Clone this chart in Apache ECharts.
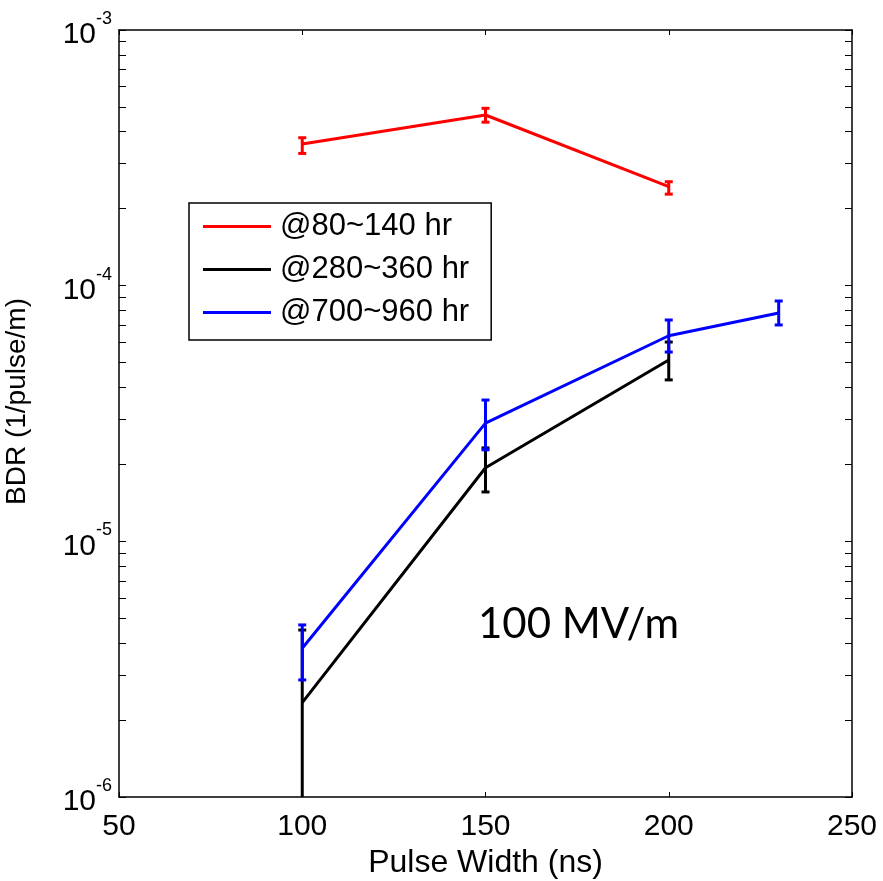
<!DOCTYPE html>
<html>
<head>
<meta charset="utf-8">
<title>BDR vs Pulse Width</title>
<script src="https://cdn.jsdelivr.net/npm/echarts@6/dist/echarts.min.js"></script>
<style>html,body{margin:0;padding:0;background:#fff}</style>
</head>
<body>
<div id="main" style="width:883px;height:881px;"></div>
<script>
// values
var names = ['@80~140 hr', '@280~360 hr', '@700~960 hr'];
var colors = ['#ff0000', '#000000', '#0000ff'];

var pulseA = [100, 150, 200];
var bdrA = [3.58e-4, 4.65e-4, 2.44e-4];
var loA = [3.29e-4, 4.36e-4, 2.28e-4];
var hiA = [3.79e-4, 4.94e-4, 2.55e-4];

var pulseB = [100, 150, 200];
var bdrB = [2.34e-6, 1.94e-5, 5.12e-5];
var loB = [5e-7, 1.56e-5, 4.28e-5];
var hiB = [4.5e-6, 2.32e-5, 6.02e-5];

var pulseC = [100, 150, 200, 230];
var bdrC = [3.82e-6, 2.90e-5, 6.37e-5, 7.82e-5];
var loC = [2.87e-6, 2.28e-5, 5.5e-5, 7.02e-5];
var hiC = [4.71e-6, 3.57e-5, 7.34e-5, 8.71e-5];

var yMajor = [1e-6, 1e-5, 1e-4, 1e-3];

var myChart = echarts.init(document.getElementById('main'));

// log minor ticks 1..9 x each decade
var yTicks = [];
for (var d = -6; d < -3; d++) {
  for (var m = 1; m < 10; m++) yTicks.push(m * Math.pow(10, d));
}
yTicks.push(1e-3);

function pairs(xs, ys) {
  return xs.map(function (x, i) { return [x, ys[i]]; });
}
function errData(xs, lo, hi) {
  return xs.map(function (x, i) { return [x, lo[i], hi[i]]; });
}

function errRender(params, api) {
  var x = api.value(0);
  var top = api.coord([x, api.value(2)]);
  var bot = api.coord([x, api.value(1)]);
  var c = api.visual('color');
  var hw = 4;
  var st = { stroke: c, lineWidth: 3 };
  return {
    type: 'group',
    children: [
      { type: 'line', shape: { x1: top[0], y1: top[1], x2: bot[0], y2: bot[1] }, style: st },
      { type: 'line', shape: { x1: top[0] - hw, y1: top[1], x2: top[0] + hw, y2: top[1] }, style: st },
      { type: 'line', shape: { x1: bot[0] - hw, y1: bot[1], x2: bot[0] + hw, y2: bot[1] }, style: st }
    ]
  };
}

var font = 'Liberation Sans, Arial, sans-serif';
var axisLineStyle = { color: '#000', width: 1.5 };

var lineSeries = [[pulseA, bdrA], [pulseB, bdrB], [pulseC, bdrC]].map(function (s, i) {
  return {
    name: names[i],
    type: 'line',
    data: pairs(s[0], s[1]),
    symbol: 'none',
    lineStyle: { color: colors[i], width: 3 },
    itemStyle: { color: colors[i] },
    z: 3
  };
});

var errSeries = [[pulseA, loA, hiA], [pulseB, loB, hiB], [pulseC, loC, hiC]].map(function (s, i) {
  return {
    type: 'custom',
    renderItem: errRender,
    data: errData(s[0], s[1], s[2]),
    itemStyle: { color: colors[i] },
    clip: true,
    z: 3
  };
});

var option = {
  animation: false,
  backgroundColor: '#fff',
  grid: { left: 119, right: 31, top: 30, bottom: 84, show: false, containLabel: false, outerBoundsMode: 'none' },
  legend: {
    data: names,
    icon: 'rect',
    orient: 'vertical',
    left: 189,
    top: 203,
    padding: [8, 22, 12, 14],
    itemWidth: 68,
    itemHeight: 3,
    itemGap: 12,
    borderColor: '#000',
    borderWidth: 1.5,
    backgroundColor: '#fff',
    textStyle: { fontFamily: font, fontSize: 31, color: '#000', lineHeight: 30, padding: [0, 0, 0, 4] }
  },
  xAxis: [{
    type: 'value',
    min: 50,
    max: 250,
    interval: 50,
    name: 'Pulse Width (ns)',
    nameLocation: 'middle',
    nameGap: 48,
    nameTextStyle: { fontFamily: font, fontSize: 32, color: '#000' },
    axisLine: { lineStyle: axisLineStyle },
    axisTick: { inside: true, length: 5, lineStyle: { color: '#000', width: 1 } },
    axisLabel: { fontFamily: font, fontSize: 30, color: '#000', margin: 15 },
    splitLine: { show: false }
  }, {
    type: 'value',
    position: 'top',
    min: 50,
    max: 250,
    interval: 50,
    axisLine: { lineStyle: axisLineStyle },
    axisTick: { inside: true, length: 5, lineStyle: { color: '#000', width: 1 } },
    axisLabel: { show: false },
    splitLine: { show: false }
  }],
  yAxis: [{
    type: 'log',
    logBase: 10,
    min: 1e-6,
    max: 1e-3,
    name: 'BDR (1/pulse/m)',
    nameLocation: 'middle',
    nameGap: 88,
    nameTextStyle: { fontFamily: font, fontSize: 28, color: '#000', padding: [0, 0, 0, 24] },
    axisLine: { lineStyle: axisLineStyle },
    axisTick: { inside: true, length: 7, customValues: yTicks, lineStyle: { color: '#000', width: 1 } },
    axisLabel: {
      customValues: yMajor,
      margin: 7,
      formatter: function (v) {
        return '{b|10}{e|' + Math.round(Math.log10(v)) + '}';
      },
      rich: {
        b: { fontFamily: font, fontSize: 30, color: '#000', lineHeight: 40, verticalAlign: 'bottom' },
        e: { fontFamily: font, fontSize: 18, color: '#000', lineHeight: 20, verticalAlign: 'top' }
      }
    },
    splitLine: { show: false },
    minorSplitLine: { show: false }
  }, {
    type: 'log',
    logBase: 10,
    position: 'right',
    min: 1e-6,
    max: 1e-3,
    axisLine: { lineStyle: axisLineStyle },
    axisTick: { inside: true, length: 7, customValues: yTicks, lineStyle: { color: '#000', width: 1 } },
    axisLabel: { show: false },
    splitLine: { show: false }
  }],
  graphic: [{
    type: 'text',
    left: 478,
    top: 603,
    style: { text: '100 MV/m', fontFamily: 'Lato, Open Sans, sans-serif', fontSize: 42, fill: '#000' }
  }],
  series: lineSeries.concat(errSeries)
};

myChart.setOption(option);
</script>
</body>
</html>
